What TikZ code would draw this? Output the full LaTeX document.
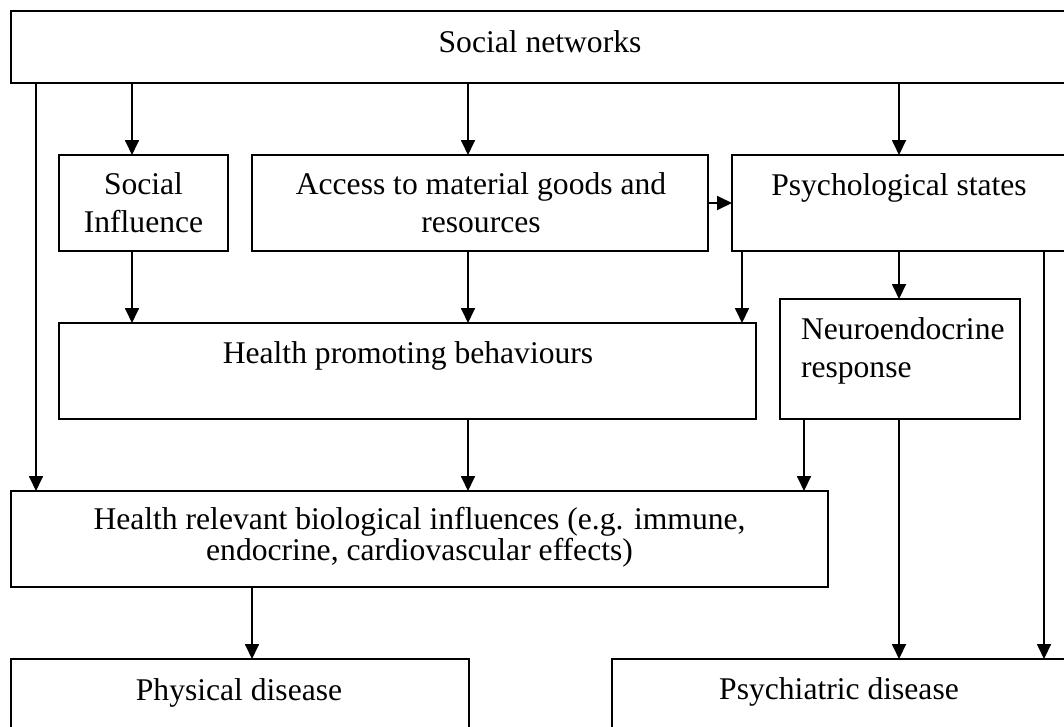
\documentclass[tikz,border=0pt]{standalone}
\usepackage{fontspec}
\setmainfont{Liberation Serif}
\usetikzlibrary{arrows.meta}
\begin{document}
\begin{tikzpicture}[x=1pt,y=-1pt,
  box/.style={draw=black,line width=1.8pt,rectangle,inner sep=0pt,outer sep=0pt,fill=white},
  txt/.style={inner sep=0pt,outer sep=0pt,font=\fontsize{31.6}{37.5}\selectfont,align=center,anchor=base},
  arr/.style={line width=1.8pt,-{Triangle[length=15pt,width=14pt]}}]
\clip (0,0) rectangle (1064,726);
\fill[white] (0,0) rectangle (1064,726);

% boxes (centre, width, height)
\node[box,minimum width=1059pt,minimum height=72pt] (sn)  at (540.5,47) {};
\node[box,minimum width=169pt, minimum height=96pt] (si)  at (143.5,203) {};
\node[box,minimum width=456pt, minimum height=96pt] (acc) at (480,203) {};
\node[box,minimum width=338pt, minimum height=96pt] (psy) at (901,203) {};
\node[box,minimum width=697pt, minimum height=96pt] (hpb) at (407.5,371) {};
\node[box,minimum width=240pt, minimum height=120pt] (neu) at (900,359) {};
\node[box,minimum width=817pt, minimum height=96pt] (hrb) at (419.5,539) {};
\node[box,minimum width=458pt, minimum height=81pt] (phy) at (240,699.5) {};
\node[box,minimum width=458pt, minimum height=81pt] (psd) at (841,699.5) {};

% labels (anchor at the baseline of the last line)
\node[txt] (snt)  at (540,52)  {Social networks};
\node[txt] (sit)  at (143.5,232) {Social\\Influence};
\node[txt] (acct) at (481,232) {Access to material goods and\\resources};
\node[txt] (psyt) at (899,195) {Psychological states};
\node[txt] (hpbt) at (408,363) {Health promoting behaviours};
\node[txt,align=left,anchor=base west] (neut) at (801,377) {Neuroendocrine\\response};
\node[txt,font=\fontsize{31.6}{28}\selectfont] (hrbt) at (419.5,560)
  {Health relevant biological influences (e.g. immune,\\endocrine, cardiovascular effects)};
\node[txt] (phyt) at (239,700) {Physical disease};
\node[txt] (psdt) at (839,699) {Psychiatric disease};

% connector columns
\coordinate (xa) at (36,0);
\coordinate (xb) at (132,0);
\coordinate (xc) at (468,0);
\coordinate (xd) at (899,0);
\coordinate (xe) at (742,0);
\coordinate (xf) at (1044,0);
\coordinate (xg) at (804,0);
\coordinate (xh) at (252,0);
\coordinate (ya) at (0,203);

% connectors
\draw[arr] (sn.south -| xa) -- (hrb.north -| xa);
\draw[arr] (sn.south -| xb) -- (si.north -| xb);
\draw[arr] (sn.south -| xc) -- (acc.north -| xc);
\draw[arr] (sn.south -| xd) -- (psy.north -| xd);
\draw[arr] (si.south -| xb) -- (hpb.north -| xb);
\draw[arr] (acc.south -| xc) -- (hpb.north -| xc);
\draw[arr] (acc.east |- ya) -- (psy.west |- ya);
\draw[arr] (psy.south -| xe) -- (hpb.north -| xe);
\draw[arr] (psy.south -| xd) -- (neu.north -| xd);
\draw[arr] (psy.south -| xf) -- (psd.north -| xf);
\draw[arr] (hpb.south -| xc) -- (hrb.north -| xc);
\draw[arr] (neu.south -| xg) -- (hrb.north -| xg);
\draw[arr] (neu.south -| xd) -- (psd.north -| xd);
\draw[arr] (hrb.south -| xh) -- (phy.north -| xh);
\end{tikzpicture}
\end{document}
